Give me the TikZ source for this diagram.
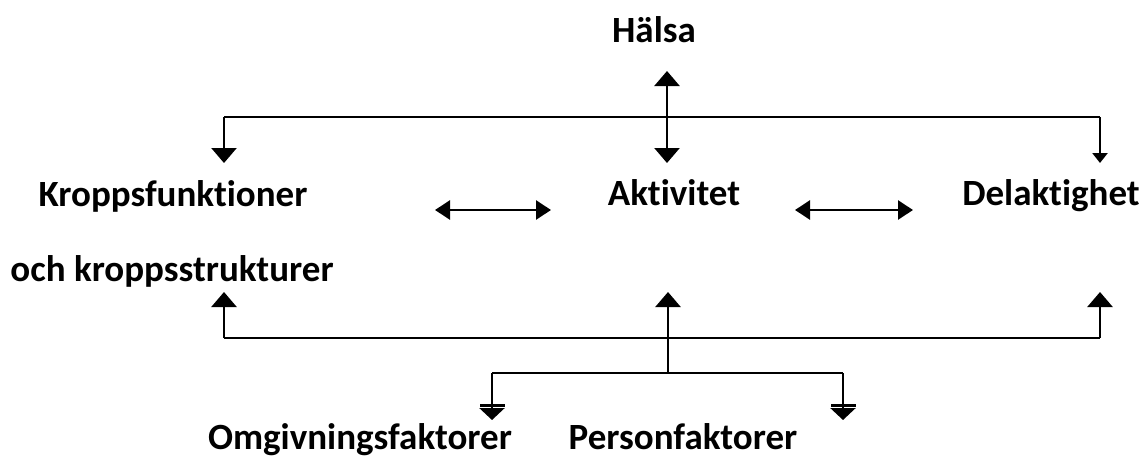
\documentclass[tikz,border=0pt]{standalone}
\usepackage{fontspec}
\setmainfont{Carlito}[Ligatures={NoCommon,NoRequired,NoContextual}]
\usetikzlibrary{arrows.meta}

\begin{document}
\begin{tikzpicture}[x=1pt, y=-1pt,
    term/.style={font=\fontsize{37}{44}\selectfont\bfseries, inner sep=0pt, anchor=base},
    wire/.style={line width=2.6pt},
    head/.style={wire, -{Triangle[width=25pt, length=15pt]}},
    thin head/.style={wire, -{Triangle[width=15pt, length=10pt]}},
    both/.style={wire, {Triangle[width=25pt, length=15pt]}-{Triangle[width=25pt, length=15pt]}},
    link/.style={wire, {Triangle[width=19pt, length=15pt]}-{Triangle[width=19pt, length=15pt]}},
    ground/.style={wire, -{Bar[width=25pt, line width=2.5pt, sep=1.5pt]Triangle[width=25pt, length=12pt]}}
]
\useasboundingbox (0,0) rectangle (1144,458);

% labels
\node[term] (halsa)    at (654,42)  {Hälsa};
\node[term] (kropp)    at (173,206) {Kroppsfunktioner};
\node[term] (struktur) at (172,281) {och kroppsstrukturer};
\node[term] (aktiv)    at (674,205) {Aktivitet};
\node[term] (delakt)   at (1051,205) {Delaktighet};
\node[term] (omgiv)    at (360,449) {Omgivningsfaktorer};
\node[term] (person)   at (683,449) {Personfaktorer};

% upper branch
\coordinate (tl) at (224,117);
\coordinate (tr) at (1100,117);
\coordinate (halsaIn) at (667,71);
\coordinate (aktivUp) at (667,163);
\coordinate (kroppUp) at (224,163);
\coordinate (delaktUp) at (1100,163);
\draw[wire] (tl) -- (tr);
\draw[head] (tl) -- (kroppUp);
\draw[thin head] (tr) -- (delaktUp);
\draw[both] (halsaIn) -- (aktivUp);

% side links
\coordinate (kroppR) at (435,210);
\coordinate (aktivL) at (551,210);
\coordinate (aktivR) at (795,210);
\coordinate (delaktL) at (913,210);
\draw[link] (kroppR) -- (aktivL);
\draw[link] (aktivR) -- (delaktL);

% lower branch
\coordinate (bl) at (224,338);
\coordinate (br) at (1100,338);
\coordinate (split) at (668,373);
\coordinate (sl) at (492,373);
\coordinate (sr) at (843,373);
\draw[wire] (bl) -- (br);
\draw[head] (bl) -- (224,292) coordinate (strukturDn);
\draw[head] (br) -- (1100,292) coordinate (delaktDn);
\draw[head] (split) -- (668,292) coordinate (aktivDn);
\draw[wire] (sl) -- (sr);
\draw[ground] (sl) -- (492,420) coordinate (omgivUp);
\draw[ground] (sr) -- (843,420) coordinate (personUp);

\end{tikzpicture}
\end{document}
